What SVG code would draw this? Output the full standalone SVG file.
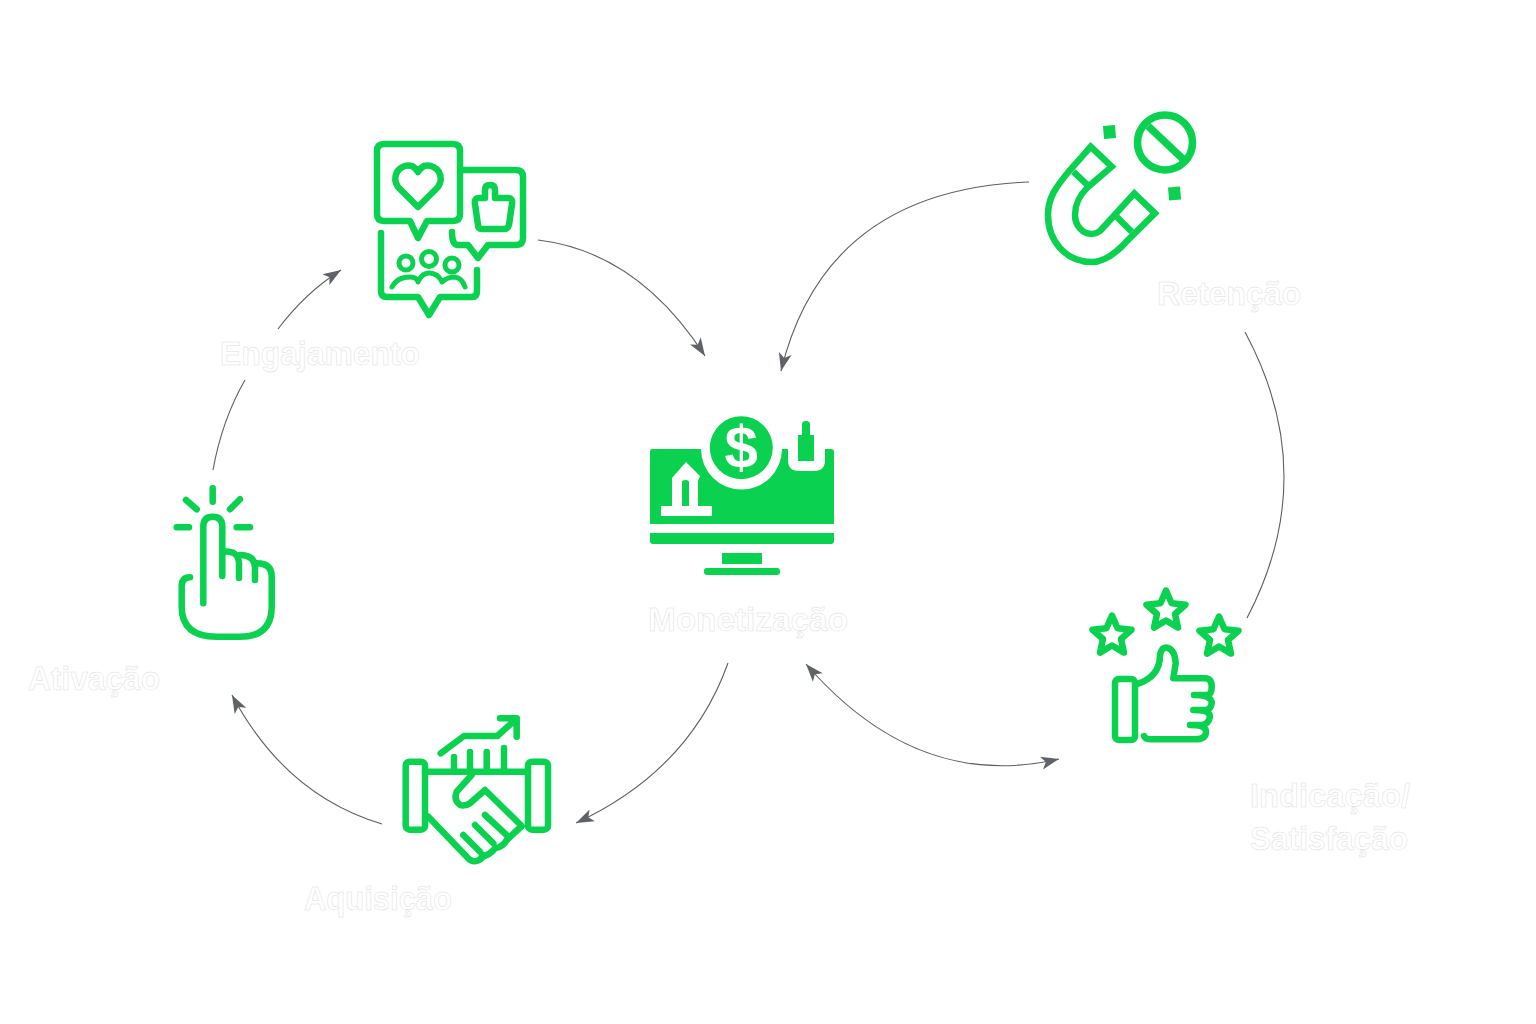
<svg xmlns="http://www.w3.org/2000/svg" width="1536" height="1024" viewBox="0 0 1536 1024">
<style>
.l{font-family:"Liberation Sans",Arial,sans-serif;font-size:33px;font-weight:bold;fill:#fff;stroke:#dcdcdc;stroke-width:.5}
.i{fill:none;stroke:#0ad14f;stroke-width:6.5;stroke-linecap:round;stroke-linejoin:round}
.f{fill:#0ad14f}
.w{fill:#fff}
.c{fill:none;stroke:#5c5f63;stroke-width:1.1}
</style>
<defs>
<marker id="a" viewBox="0 -7 18 14" refX="18" refY="0" markerWidth="18" markerHeight="14" markerUnits="userSpaceOnUse" orient="auto-start-reverse"><path d="M0,-6.5L18,0L0,6.5L4.5,0Z" fill="#5f6368"/></marker>
<polygon id="s" points="0,-20.5 5.6,-7.7 19.5,-6.3 9,3 12,16.6 0,9.5 -12,16.6 -9,3 -19.5,-6.3 -5.6,-7.7"/>
</defs>
<rect width="1536" height="1024" fill="#fff"/>
<g id="connectors">
<path class="c" marker-end="url(#a)" d="M1029,182Q825,190 781,371"/>
<path class="c" marker-end="url(#a)" d="M538,240Q638,252 705,356"/>
<path class="c" marker-end="url(#a)" d="M278,329Q305,293 341,270"/>
<path class="c" d="M213,470Q222,420 245,380"/>
<path class="c" marker-end="url(#a)" d="M382,824Q285,795 232,695"/>
<path class="c" marker-end="url(#a)" d="M728,663Q690,770 576,823"/>
<path class="c" marker-start="url(#a)" marker-end="url(#a)" d="M806,664Q917,792 1059,759"/>
<path class="c" d="M1245,332Q1322,475 1247,618"/>
</g>
<g id="engajamento">
<path class="i" d="M384,144H453Q460,144 460,151V214Q460,221 453,221H427L418,238L410,221H384Q377,221 377,214V151Q377,144 384,144Z"/>
<path class="i" d="M418,207L398,187Q393,180 397,172Q403,164 412,166Q416,168 418,172Q420,168 424,166Q433,164 439,172Q443,180 438,187Z"/>
<path class="i" d="M462,170H516Q523,170 523,177V238Q523,245 516,245H488L478,258L468,245H458Q452,245 452,232"/>
<path class="i" d="M485,198V190Q485,185 490,185Q495,185 495,190V198H508Q513,198 512,204L509,225Q508,229 504,229H482Q478,229 478,225L475,204Q474,198 479,198Z"/>
<circle class="i" style="stroke-width:5" cx="406" cy="263" r="7"/>
<circle class="i" style="stroke-width:5" cx="429" cy="259" r="7.5"/>
<circle class="i" style="stroke-width:5" cx="452" cy="265" r="7"/>
<path class="i" style="stroke-width:5" d="M392,287Q397,277 410,277Q417,277 418,282Q422,273 429,273Q438,273 442,282Q447,277 455,277Q462,278 465,287"/>
<path class="i" d="M381,233V291Q381,297 387,297H418L429,315L440,297H472Q477,297 477,291V270"/>
<text class="l" x="220" y="365" textLength="200" lengthAdjust="spacingAndGlyphs">Engajamento</text>
</g>
<g id="monetizacao">
<path class="f" d="M652,449H701A40.5,40.5 0 0 0 782,449H788V460Q788,471 799,471H814Q825,471 825,460V449H831Q834,449 834,452V524H650V452Q650,449 652,449Z"/>
<circle class="f" cx="741.3" cy="447.7" r="31.5"/>
<path class="f" d="M798,461V435H802V424Q802,421 806,421Q810,421 810,424V435H814V461Z"/>
<path class="w" d="M661,506H712V516H661ZM672,506V478L686,462L700,476L698,481V506H689V482Q689,480 685.5,480Q682,480 682,482V506Z"/>
<text x="741.3" y="468" text-anchor="middle" style="font-family:'Liberation Sans',Arial,sans-serif;font-size:60px;font-weight:bold;fill:#fff">$</text>
<path class="f" d="M650,533H834V541Q834,544 831,544H653Q650,544 650,541Z"/>
<rect class="f" x="722" y="553" width="40" height="11"/>
<rect class="f" x="704" y="568" width="76" height="7" rx="3"/>
<text class="l" x="648" y="631" textLength="200" lengthAdjust="spacingAndGlyphs">Monetização</text>
</g>
<g id="retencao">
<path class="i" style="stroke-linejoin:miter" d="M1090.7,146.7L1111.7,166.7L1088,187C1078,197 1075,205 1075,215C1075,226 1083,234 1092,234Q1096,234 1100,231L1134.3,193.3L1155,213.3L1128,240C1112,258 1100,262 1092,262C1065,262 1048,240 1048,215C1048,198 1055,188 1070,170Z"/>
<path class="i" style="stroke-linecap:butt" d="M1073.3,171.7L1090,187.3M1116.7,216.7L1131.7,231.7"/>
<circle class="i" style="stroke-width:7.5" cx="1165" cy="142.5" r="27.5"/>
<path class="i" style="stroke-width:7.5;stroke-linecap:butt" d="M1148,126L1184,160"/>
<rect class="f" x="1103.5" y="125.5" width="12" height="13" transform="rotate(-5 1109 132)"/>
<rect class="f" x="1168.5" y="187" width="12" height="13" transform="rotate(-5 1174 193)"/>
<text class="l" x="1157" y="305" textLength="144" lengthAdjust="spacingAndGlyphs">Retenção</text>
</g>
<g id="indicacao">
<use href="#s" class="i" x="1112" y="636"/>
<use href="#s" class="i" x="1166" y="611"/>
<use href="#s" class="i" x="1219" y="637"/>
<rect class="i" x="1115" y="679" width="20" height="61" rx="4"/>
<path class="i" d="M1137.3,684Q1160,676.7 1160,655Q1161.7,646.7 1167.3,647.7Q1175,650 1175.7,663.3L1173.3,678.3H1205Q1211.7,678.3 1211.7,686.7Q1211.7,695 1206.7,695H1194Q1211.7,695 1211.7,703.3Q1210.7,710 1205,710H1193.3Q1210,710 1210,716.7Q1208.3,725 1201.7,725H1190Q1206,725 1206,731.7Q1206,739.3 1195,739.3H1151.7Q1145,739.3 1144,736"/>
<text class="l" x="1250" y="807" textLength="160" lengthAdjust="spacingAndGlyphs">Indicação/</text>
<text class="l" x="1250" y="850" textLength="158" lengthAdjust="spacingAndGlyphs">Satisfação</text>
</g>
<g id="aquisicao">
<rect class="i" x="405.7" y="761.7" width="19.3" height="68" rx="4"/>
<rect class="i" x="528" y="761.7" width="20" height="68" rx="4"/>
<path class="i" d="M425,771.7H528M454,771.7V757M470,771.7V752M486.7,771.7V752M504,771.7V748"/>
<path class="i" d="M440.7,753.3L464,736H497.3L515,720M500,718.3H516.7V736.7"/>
<path class="i" d="M428.3,816.7L467,857Q473.3,865 481.7,858.3L483,855"/>
<path class="i" d="M471.7,775L456.7,791.7Q453.3,800 460,805Q465,806.7 470,803.3L485,790L521.7,826L506.7,840Q503.3,846.7 495,848.3Q490,855 481.7,856.7"/>
<path class="i" d="M463.3,835L480,851.7M475,825L493.3,843.3M485,815L508.3,836.7"/>
<text class="l" x="304" y="910" textLength="148" lengthAdjust="spacingAndGlyphs">Aquisição</text>
</g>
<g id="ativacao">
<path class="i" d="M212.7,488.3V501.7M186,500L196.7,509.3M240,499.3L230,509.3M176.7,527.3H189M236.7,527.3H250"/>
<path class="i" d="M203.3,603.3V526.7Q203.3,516.7 212.7,516.7Q222.3,516.7 222.3,526.7V576"/>
<path class="i" d="M223.3,551.7Q238.3,550 239,563.3V578"/>
<path class="i" d="M240,555Q255,555 255,568.3V580"/>
<path class="i" d="M256.7,563.3Q271.7,563.3 271.7,576.7V606.7Q271.7,636.7 240,636.7H216.7Q181.7,636.7 181.7,606.7V586.7Q181.7,577.3 190,577.3"/>
<text class="l" x="28" y="690" textLength="132" lengthAdjust="spacingAndGlyphs">Ativação</text>
</g>
</svg>
